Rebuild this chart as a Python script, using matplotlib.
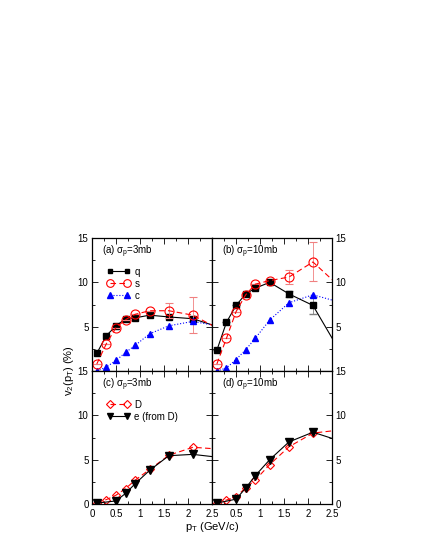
import numpy as np
import matplotlib.pyplot as plt
from matplotlib.ticker import MultipleLocator

plt.rcParams['font.family'] = ['Liberation Sans', 'DejaVu Sans']
plt.rcParams['font.size'] = 7
plt.rcParams['mathtext.fontset'] = 'custom'
plt.rcParams['mathtext.rm'] = 'Liberation Sans'
plt.rcParams['mathtext.it'] = 'Liberation Sans'

# pT grid; last point lies past the axis end and gets clipped
pt = [0.1, 0.3, 0.5, 0.7, 0.9, 1.2, 1.6, 2.1, 2.9]

# (a) sigma_p = 3mb
q_a = [2.0, 4.0, 5.1, 5.9, 6.0, 6.3, 6.1, 5.9, 4.5]
s_a = [0.8, 3.1, 4.9, 5.8, 6.4, 6.8, 6.8, 6.3, 4.0]
s_a_err = [0, 0, 0, 0, 0, 0, 0.85, 2.0, 0]
c_a = [0.0, 0.45, 1.2, 2.1, 2.9, 4.2, 5.1, 5.6, 4.8]

# (b) sigma_p = 10mb
q_b = [2.35, 5.5, 7.4, 8.7, 9.35, 10.0, 8.7, 7.4, 0.0]
q_b_err = [0, 0, 0, 0, 0, 0, 0.35, 1.0, 0]
s_b = [0.8, 3.7, 6.7, 8.6, 9.8, 10.2, 10.6, 12.3, 8.3]
s_b_err = [0, 0, 0, 0, 0, 0, 0.8, 2.2, 0]
c_b = [0.0, 0.35, 1.3, 2.4, 3.7, 5.75, 7.7, 8.6, 7.4]

# (c) D mesons and decay electrons, 3mb
D_c = [0.15, 0.5, 1.0, 1.75, 2.7, 3.9, 5.5, 6.4, 6.1]
pt_e = [0.1, 0.5, 0.7, 0.9, 1.2, 1.6, 2.1, 2.9]
e_c = [0.1, 0.35, 1.2, 2.3, 3.8, 5.45, 5.6, 5.1]

# (d) 10mb
D_d = [0.15, 0.45, 0.8, 1.85, 2.7, 4.45, 6.45, 8.0, 8.5]
e_d = [0.1, 0.55, 1.8, 3.2, 5.0, 7.0, 8.1, 6.7]

xt_left = [0, 0.5, 1, 1.5, 2, 2.5]
xt_left_lbl = ['0', '0.5', '1', '1.5', '2', '2.5']
xt_right = [0.5, 1, 1.5, 2, 2.5]
xt_right_lbl = ['0.5', '1', '1.5', '2', '2.5']

fig = plt.figure(figsize=(4.25, 5.5), dpi=100)
L, W = 0.2165, 0.2825
B, H = 0.0836, 0.2418
axa = fig.add_axes([L, B + H, W, H])
axb = fig.add_axes([L + W, B + H, W, H])
axc = fig.add_axes([L, B, W, H])
axd = fig.add_axes([L + W, B, W, H])

for ax in (axa, axb, axc, axd):
    ax.set_xlim(0, 2.5)
    ax.set_ylim(0, 15)
    ax.xaxis.set_major_locator(MultipleLocator(0.5))
    ax.xaxis.set_minor_locator(MultipleLocator(0.25))
    ax.yaxis.set_major_locator(MultipleLocator(5))
    ax.yaxis.set_minor_locator(MultipleLocator(2.5))
    ax.tick_params(which='both', direction='in', top=True, right=True, width=0.6, pad=2.5)
    ax.tick_params(axis='x', pad=3.5)
    ax.tick_params(which='major', length=4)
    ax.tick_params(which='minor', length=2)
    for sp in ax.spines.values():
        sp.set_linewidth(0.9)

lw = 0.8
legkw = dict(loc='upper left', bbox_to_anchor=(0.05, 0.85), frameon=False, numpoints=2,
             handlelength=2.4, handletextpad=0.45, labelspacing=0.2, borderaxespad=0.5)

# panel (a)
hq, = axa.plot(pt, q_a, '-s', color='black', ms=4.2, lw=lw, label='q')
hs = axa.errorbar(pt, s_a, yerr=s_a_err, fmt='--o', color='red', mfc='none', ms=6.5, lw=lw,
                  mew=0.8, dashes=(5, 3), ecolor='#f08080', elinewidth=0.6, capsize=3, label='s')
hc, = axa.plot(pt, c_a, ':^', color='blue', ms=5, lw=lw, label='c')
axa.text(0.2, 13.2, r'(a) $\sigma_p$=3mb')
axa.legend([hq, hs[0], hc], ['q', 's', 'c'], markerscale=0.85, **legkw)

# panel (b)
axb.errorbar(pt, q_b, yerr=q_b_err, fmt='-s', color='black', ms=4.2, lw=lw,
             ecolor='#808080', elinewidth=0.6, capsize=3)
axb.errorbar(pt, s_b, yerr=s_b_err, fmt='--o', color='red', mfc='none', ms=6.5, lw=lw,
             mew=0.8, dashes=(5, 3), ecolor='#f08080', elinewidth=0.6, capsize=3)
axb.plot(pt, c_b, ':^', color='blue', ms=5, lw=lw)
axb.text(0.2, 13.2, r'(b) $\sigma_p$=10mb')

# panel (c)
axc.plot(pt, D_c, '--D', color='red', mfc='none', ms=4.2, lw=lw, mew=0.8, dashes=(5, 3), label='D')
axc.plot(pt_e, e_c, '-v', color='black', ms=5.5, lw=lw, label='e (from D)')
axc.text(0.2, 13.2, r'(c) $\sigma_p$=3mb')
axc.legend(markerscale=0.9, **legkw)

# panel (d)
axd.plot(pt, D_d, '--D', color='red', mfc='none', ms=4.2, lw=lw, mew=0.8, dashes=(5, 3))
axd.plot(pt_e, e_d, '-v', color='black', ms=5.5, lw=lw)
axd.text(0.2, 13.2, r'(d) $\sigma_p$=10mb')

# tick labels
axa.set_xticklabels([])
axb.set_xticklabels([])
axa.set_yticks([5, 10, 15])
axb.set_yticks([5, 10, 15])
for ax in (axb, axd):
    ax.tick_params(which='both', left=True, right=True, labelleft=False, labelright=True)
axc.set_xticks(xt_left, xt_left_lbl)
axd.set_xticks(xt_right, xt_right_lbl)

fig.text(0.163, 0.327, r'v$_2$(p$_T$) (%)', rotation=90, ha='center', va='center', fontsize=8)
fig.text(0.5, 0.042, r'p$_T$ (GeV/c)', ha='center', va='center', fontsize=8)

fig.savefig('out.png', dpi=100)
